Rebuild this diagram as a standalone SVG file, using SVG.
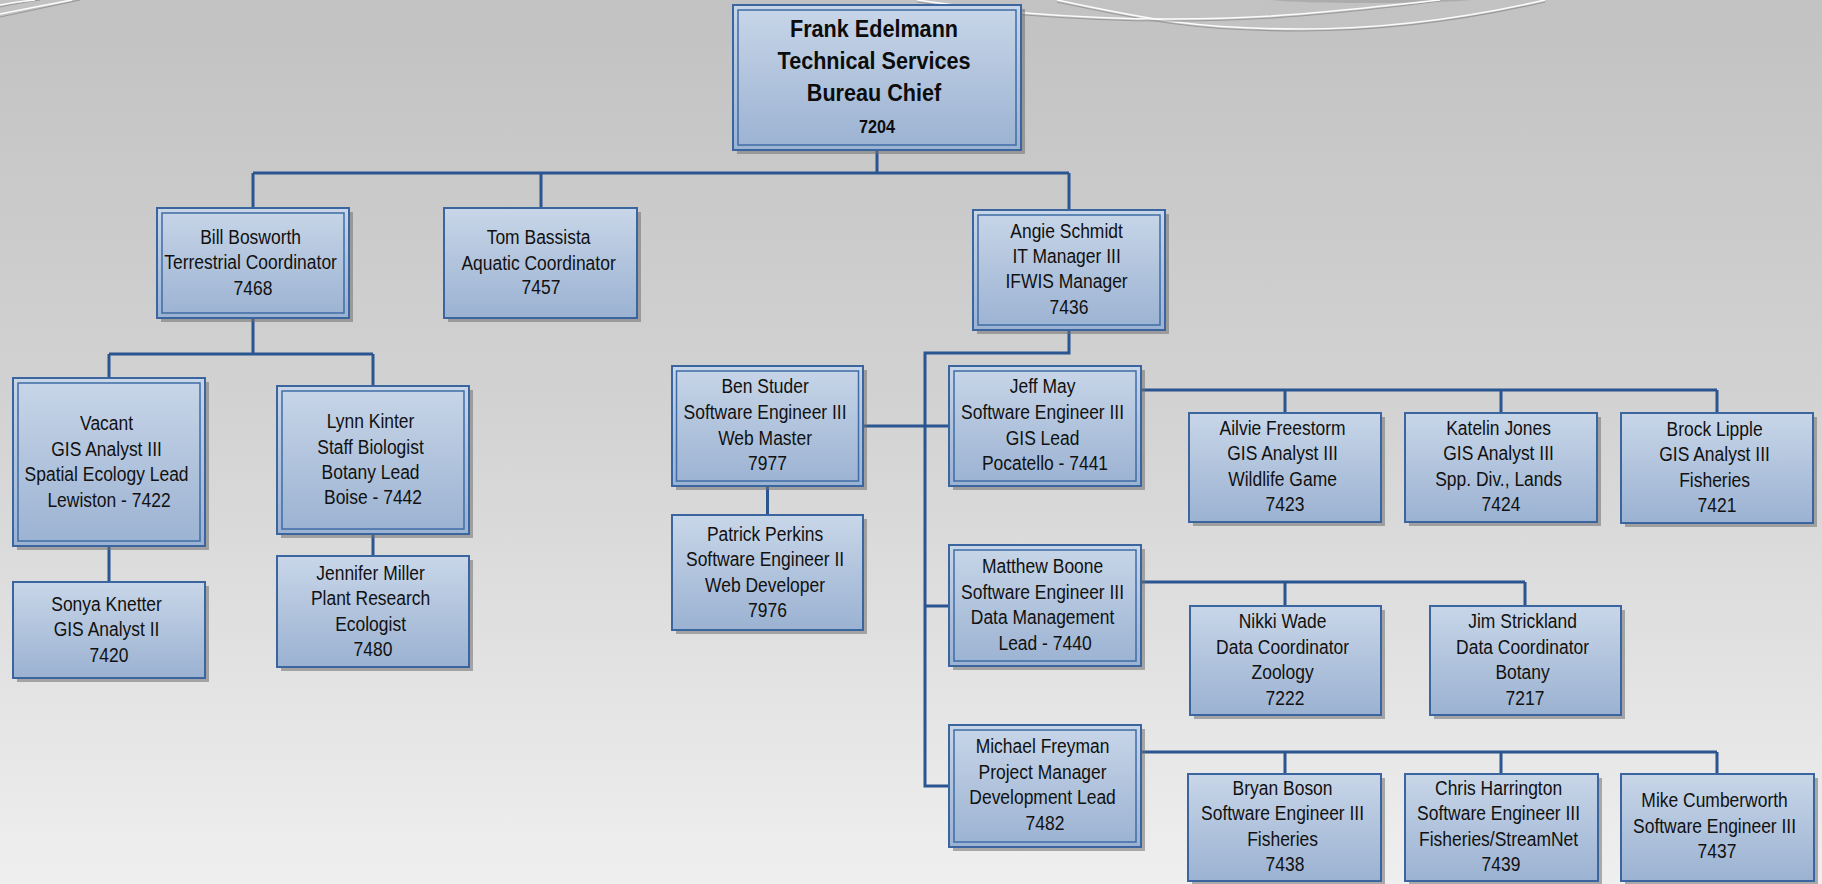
<svg xmlns="http://www.w3.org/2000/svg" width="1822" height="884" viewBox="0 0 1822 884">
  <defs>
    <linearGradient id="bg" x1="0" y1="0" x2="0" y2="1">
      <stop offset="0" stop-color="#c2c2c2"/>
      <stop offset="0.45" stop-color="#d2d2d2"/>
      <stop offset="1" stop-color="#efefef"/>
    </linearGradient>
    <linearGradient id="boxfill" x1="0" y1="0" x2="0" y2="1">
      <stop offset="0" stop-color="#c8d6e8"/>
      <stop offset="1" stop-color="#9bb2d2"/>
    </linearGradient>
    <style>
      .shadow { fill: #6f6f6f; opacity: 0.55; }
      .box { fill: url(#boxfill); stroke: #3a659e; stroke-width: 2; }
      .inner { fill: none; stroke: #3f6ca6; stroke-width: 1.5; }
      .lbl { font-family: "Liberation Sans", Arial, sans-serif; font-size: 20.8px; fill: #111; text-anchor: middle; }
      .head { font-family: "Liberation Sans", Arial, sans-serif; font-size: 24px; font-weight: bold; fill: #0c0c0c; text-anchor: middle; }
      .headnum { font-size: 18px; }
      .link { fill: none; stroke: #2a5591; stroke-width: 3; }
      .swoosh { fill: none; stroke: #fbfbfb; stroke-width: 1.6; }
      .swoosh-sh { fill: none; stroke: #9a9a9a; stroke-width: 1.2; }
    </style>
  </defs>

  <!-- backdrop -->
  <rect x="0" y="0" width="1822" height="884" fill="url(#bg)"/>

  <!-- decorative swooshes along the top edge -->
  <g id="swooshes">
    <path class="swoosh-sh" d="M0,17 Q38,9 80,0"/>
    <path class="swoosh" d="M0,14 Q35,7 72,0"/>
    <path class="swoosh-sh" d="M0,7 Q18,3 40,0"/>
    <path class="swoosh" d="M0,5 Q15,2 35,0"/>
    <ellipse cx="1370" cy="-2" rx="110" ry="5" fill="#9d9d9d" opacity="0.6"/>
    <path class="swoosh-sh" d="M1057,2 C1150,22 1200,31 1300,31 C1400,31 1480,17 1545,2"/>
    <path class="swoosh" d="M1057,0 C1150,20 1200,29 1300,29 C1400,29 1480,15 1545,0"/>
    <path class="swoosh-sh" d="M917,2 C960,8 1000,13 1025,15 C1100,21 1200,24 1300,16 C1360,11 1410,5 1440,1"/>
    <path class="swoosh" d="M917,0 C960,6 1000,11 1025,13 C1100,19 1200,22 1300,14 C1360,9 1410,3 1440,0"/>
  </g>

  <!-- reporting lines -->
  <g id="connectors">
    <path class="link" d="M877,150 V173 M253,173 H1069 M253,173 V208 M541,173 V208 M1069,173 V210"/>
    <path class="link" d="M253,318 V354 M109,354 H373 M109,354 V378 M373,354 V386"/>
    <path class="link" d="M109,546 V582 M373,534 V556"/>
    <path class="link" d="M1069,330 V353 H925 V786 H949 M925,606 H949 M863,426 H949 M767.5,486 V515"/>
    <path class="link" d="M1141,390 H1717 M1285,390 V413 M1501,390 V413 M1717,390 V413"/>
    <path class="link" d="M1141,582 H1525 M1285,582 V606 M1525,582 V606"/>
    <path class="link" d="M1141,752 H1717 M1285,752 V774 M1501,752 V774 M1717,752 V774"/>
  </g>

  <!-- Bureau chief -->
  <g id="frank-edelmann">
    <rect class="shadow" x="737" y="9" width="288" height="145"/>
    <rect class="box" x="733" y="5" width="288" height="145"/>
    <rect class="inner" x="738" y="10" width="278" height="135"/>
    <text class="head" transform="translate(877 0) scale(0.9 1)">
      <tspan x="0" y="37">Frank Edelmann</tspan>
      <tspan x="0" y="69">Technical Services</tspan>
      <tspan x="0" y="101">Bureau Chief</tspan>
      <tspan x="0" y="133" class="headnum">7204</tspan>
    </text>
  </g>

  <g id="bill-bosworth">
    <rect class="shadow" x="161" y="212" width="192" height="110"/>
    <rect class="box" x="157" y="208" width="192" height="110"/>
    <rect class="inner" x="162" y="213" width="182" height="100"/>
    <text class="lbl" transform="translate(253 0) scale(0.84 1)">
      <tspan x="0" y="244">Bill Bosworth</tspan>
      <tspan x="0" y="269.5">Terrestrial Coordinator</tspan>
      <tspan x="0" y="295">7468</tspan>
    </text>
  </g>

  <g id="tom-bassista">
    <rect class="shadow" x="448" y="212" width="193" height="110"/>
    <rect class="box" x="444" y="208" width="193" height="110"/>
    <text class="lbl" transform="translate(541 0) scale(0.84 1)">
      <tspan x="0" y="244">Tom Bassista</tspan>
      <tspan x="0" y="270">Aquatic Coordinator</tspan>
      <tspan x="0" y="294.5">7457</tspan>
    </text>
  </g>

  <g id="angie-schmidt">
    <rect class="shadow" x="977" y="214" width="192" height="120"/>
    <rect class="box" x="973" y="210" width="192" height="120"/>
    <rect class="inner" x="978" y="215" width="182" height="110"/>
    <text class="lbl" transform="translate(1069 0) scale(0.84 1)">
      <tspan x="0" y="238">Angie Schmidt</tspan>
      <tspan x="0" y="263.5">IT Manager III</tspan>
      <tspan x="0" y="288.5">IFWIS Manager</tspan>
      <tspan x="0" y="314">7436</tspan>
    </text>
  </g>

  <g id="vacant-7422">
    <rect class="shadow" x="17" y="382" width="192" height="168"/>
    <rect class="box" x="13" y="378" width="192" height="168"/>
    <rect class="inner" x="18" y="383" width="182" height="158"/>
    <text class="lbl" transform="translate(109 0) scale(0.84 1)">
      <tspan x="0" y="430">Vacant</tspan>
      <tspan x="0" y="456">GIS Analyst III</tspan>
      <tspan x="0" y="481.5">Spatial Ecology Lead</tspan>
      <tspan x="0" y="507">Lewiston - 7422</tspan>
    </text>
  </g>

  <g id="lynn-kinter">
    <rect class="shadow" x="281" y="390" width="192" height="148"/>
    <rect class="box" x="277" y="386" width="192" height="148"/>
    <rect class="inner" x="282" y="391" width="182" height="138"/>
    <text class="lbl" transform="translate(373 0) scale(0.84 1)">
      <tspan x="0" y="428.5">Lynn Kinter</tspan>
      <tspan x="0" y="454">Staff Biologist</tspan>
      <tspan x="0" y="479">Botany Lead</tspan>
      <tspan x="0" y="504.5">Boise - 7442</tspan>
    </text>
  </g>

  <g id="sonya-knetter">
    <rect class="shadow" x="17" y="586" width="192" height="96"/>
    <rect class="box" x="13" y="582" width="192" height="96"/>
    <text class="lbl" transform="translate(109 0) scale(0.84 1)">
      <tspan x="0" y="611">Sonya Knetter</tspan>
      <tspan x="0" y="636.5">GIS Analyst II</tspan>
      <tspan x="0" y="662">7420</tspan>
    </text>
  </g>

  <g id="jennifer-miller">
    <rect class="shadow" x="281" y="560" width="192" height="111"/>
    <rect class="box" x="277" y="556" width="192" height="111"/>
    <text class="lbl" transform="translate(373 0) scale(0.84 1)">
      <tspan x="0" y="580">Jennifer Miller</tspan>
      <tspan x="0" y="605.5">Plant Research</tspan>
      <tspan x="0" y="631">Ecologist</tspan>
      <tspan x="0" y="656">7480</tspan>
    </text>
  </g>

  <g id="ben-studer">
    <rect class="shadow" x="676" y="370" width="191" height="120"/>
    <rect class="box" x="672" y="366" width="191" height="120"/>
    <rect class="inner" x="676.5" y="371" width="182" height="110"/>
    <text class="lbl" transform="translate(767.5 0) scale(0.84 1)">
      <tspan x="0" y="393.5">Ben Studer</tspan>
      <tspan x="0" y="419.5">Software Engineer III</tspan>
      <tspan x="0" y="445">Web Master</tspan>
      <tspan x="0" y="470">7977</tspan>
    </text>
  </g>

  <g id="patrick-perkins">
    <rect class="shadow" x="676" y="519" width="191" height="115"/>
    <rect class="box" x="672" y="515" width="191" height="115"/>
    <text class="lbl" transform="translate(767.5 0) scale(0.84 1)">
      <tspan x="0" y="541">Patrick Perkins</tspan>
      <tspan x="0" y="566.5">Software Engineer II</tspan>
      <tspan x="0" y="592">Web Developer</tspan>
      <tspan x="0" y="617.5">7976</tspan>
    </text>
  </g>

  <g id="jeff-may">
    <rect class="shadow" x="953" y="370" width="192" height="120"/>
    <rect class="box" x="949" y="366" width="192" height="120"/>
    <rect class="inner" x="954" y="371" width="182" height="110"/>
    <text class="lbl" transform="translate(1045 0) scale(0.84 1)">
      <tspan x="0" y="393.5">Jeff May</tspan>
      <tspan x="0" y="419.5">Software Engineer III</tspan>
      <tspan x="0" y="445">GIS Lead</tspan>
      <tspan x="0" y="470.5">Pocatello - 7441</tspan>
    </text>
  </g>

  <g id="matthew-boone">
    <rect class="shadow" x="953" y="549" width="192" height="121"/>
    <rect class="box" x="949" y="545" width="192" height="121"/>
    <rect class="inner" x="954" y="550" width="182" height="111"/>
    <text class="lbl" transform="translate(1045 0) scale(0.84 1)">
      <tspan x="0" y="573.5">Matthew Boone</tspan>
      <tspan x="0" y="599">Software Engineer III</tspan>
      <tspan x="0" y="624.5">Data Management</tspan>
      <tspan x="0" y="650">Lead - 7440</tspan>
    </text>
  </g>

  <g id="michael-freyman">
    <rect class="shadow" x="953" y="729" width="192" height="122"/>
    <rect class="box" x="949" y="725" width="192" height="122"/>
    <rect class="inner" x="954" y="730" width="182" height="112"/>
    <text class="lbl" transform="translate(1045 0) scale(0.84 1)">
      <tspan x="0" y="753.5">Michael Freyman</tspan>
      <tspan x="0" y="779">Project Manager</tspan>
      <tspan x="0" y="804.5">Development Lead</tspan>
      <tspan x="0" y="830">7482</tspan>
    </text>
  </g>

  <g id="ailvie-freestorm">
    <rect class="shadow" x="1193" y="417" width="192" height="109"/>
    <rect class="box" x="1189" y="413" width="192" height="109"/>
    <text class="lbl" transform="translate(1285 0) scale(0.84 1)">
      <tspan x="0" y="435">Ailvie Freestorm</tspan>
      <tspan x="0" y="460.5">GIS Analyst III</tspan>
      <tspan x="0" y="486">Wildlife Game</tspan>
      <tspan x="0" y="511.5">7423</tspan>
    </text>
  </g>

  <g id="katelin-jones">
    <rect class="shadow" x="1409" y="417" width="192" height="109"/>
    <rect class="box" x="1405" y="413" width="192" height="109"/>
    <text class="lbl" transform="translate(1501 0) scale(0.84 1)">
      <tspan x="0" y="435">Katelin Jones</tspan>
      <tspan x="0" y="460.5">GIS Analyst III</tspan>
      <tspan x="0" y="486">Spp. Div., Lands</tspan>
      <tspan x="0" y="511.5">7424</tspan>
    </text>
  </g>

  <g id="brock-lipple">
    <rect class="shadow" x="1625" y="417" width="192" height="110"/>
    <rect class="box" x="1621" y="413" width="192" height="110"/>
    <text class="lbl" transform="translate(1717 0) scale(0.84 1)">
      <tspan x="0" y="436">Brock Lipple</tspan>
      <tspan x="0" y="461.5">GIS Analyst III</tspan>
      <tspan x="0" y="487">Fisheries</tspan>
      <tspan x="0" y="512.5">7421</tspan>
    </text>
  </g>

  <g id="nikki-wade">
    <rect class="shadow" x="1194" y="610" width="191" height="109"/>
    <rect class="box" x="1190" y="606" width="191" height="109"/>
    <text class="lbl" transform="translate(1285 0) scale(0.84 1)">
      <tspan x="0" y="628.5">Nikki Wade</tspan>
      <tspan x="0" y="654">Data Coordinator</tspan>
      <tspan x="0" y="679.5">Zoology</tspan>
      <tspan x="0" y="705">7222</tspan>
    </text>
  </g>

  <g id="jim-strickland">
    <rect class="shadow" x="1434" y="610" width="191" height="109"/>
    <rect class="box" x="1430" y="606" width="191" height="109"/>
    <text class="lbl" transform="translate(1525 0) scale(0.84 1)">
      <tspan x="0" y="628.5">Jim Strickland</tspan>
      <tspan x="0" y="654">Data Coordinator</tspan>
      <tspan x="0" y="679.5">Botany</tspan>
      <tspan x="0" y="705">7217</tspan>
    </text>
  </g>

  <g id="bryan-boson">
    <rect class="shadow" x="1192" y="778" width="193" height="107"/>
    <rect class="box" x="1188" y="774" width="193" height="107"/>
    <text class="lbl" transform="translate(1285 0) scale(0.84 1)">
      <tspan x="0" y="795">Bryan Boson</tspan>
      <tspan x="0" y="820.5">Software Engineer III</tspan>
      <tspan x="0" y="846">Fisheries</tspan>
      <tspan x="0" y="871.5">7438</tspan>
    </text>
  </g>

  <g id="chris-harrington">
    <rect class="shadow" x="1409" y="778" width="193" height="107"/>
    <rect class="box" x="1405" y="774" width="193" height="107"/>
    <text class="lbl" transform="translate(1501 0) scale(0.84 1)">
      <tspan x="0" y="795">Chris Harrington</tspan>
      <tspan x="0" y="820.5">Software Engineer III</tspan>
      <tspan x="0" y="846">Fisheries/StreamNet</tspan>
      <tspan x="0" y="871.5">7439</tspan>
    </text>
  </g>

  <g id="mike-cumberworth">
    <rect class="shadow" x="1625" y="778" width="193" height="107"/>
    <rect class="box" x="1621" y="774" width="193" height="107"/>
    <text class="lbl" transform="translate(1717 0) scale(0.84 1)">
      <tspan x="0" y="807.5">Mike Cumberworth</tspan>
      <tspan x="0" y="833">Software Engineer III</tspan>
      <tspan x="0" y="858.5">7437</tspan>
    </text>
  </g>
</svg>
